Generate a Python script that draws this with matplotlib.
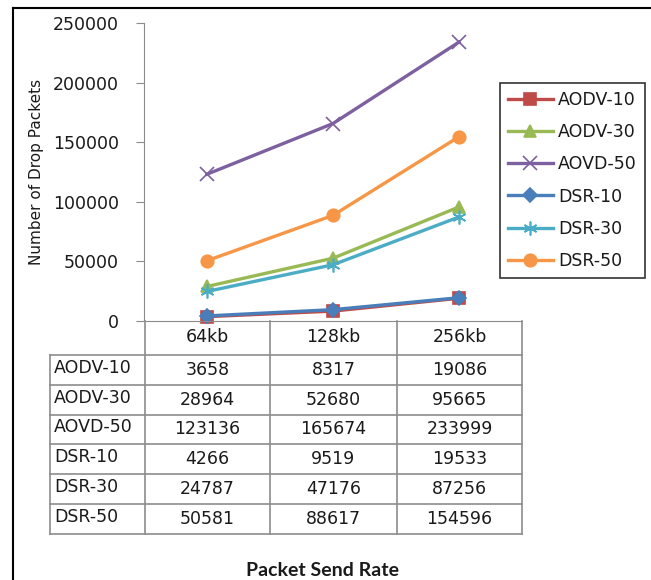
import matplotlib
matplotlib.use("Agg")
import matplotlib.pyplot as plt
from matplotlib.lines import Line2D

plt.rcParams["font.family"] = ["DejaVu Sans"]

# packet send rates (categories) and drop counts per protocol
rates = ["64kb", "128kb", "256kb"]
names = ["AODV-10", "AODV-30", "AOVD-50", "DSR-10", "DSR-30", "DSR-50"]
aodv_10 = [3658, 8317, 19086]
aodv_30 = [28964, 52680, 95665]
aovd_50 = [123136, 165674, 233999]
dsr_10 = [4266, 9519, 19533]
dsr_30 = [24787, 47176, 87256]
dsr_50 = [50581, 88617, 154596]
y_ticks = [0, 50000, 100000, 150000, 200000, 250000]

series = [aodv_10, aodv_30, aovd_50, dsr_10, dsr_30, dsr_50]
colors = ["#BE4B48", "#98B954", "#7D60A0", "#4A7EBB", "#4BACC6", "#F79646"]
markers = ["s", "^", "x", "D", (6, 2, 0), "o"]
msizes = [8, 8, 10, 7, 10, 9]

W, H = 651, 580
fig = plt.figure(figsize=(W / 100, H / 100), dpi=100)
fig.patch.set_facecolor("white")

def fx(px):
    return px / W

def fy(py):
    return 1 - py / H

grid_c = "#8c8c8c"
txt_c = "#1a1a1a"
fsize = 12.5

ax = fig.add_axes([fx(144), fy(321), fx(522) - fx(144), fy(23) - fy(321)])
x = list(range(len(rates)))
lines = []
for vals, c, m, ms, name in zip(series, colors, markers, msizes, names):
    ln, = ax.plot(x, vals, color=c, lw=2.4, marker=m, markersize=ms,
                  markerfacecolor=c, markeredgecolor=c, markeredgewidth=1.2,
                  label=name, clip_on=False)
    lines.append(ln)

ax.set_xlim(-0.5, 2.5)
ax.set_ylim(0, 250000)
ax.set_yticks(y_ticks)
ax.set_yticklabels([str(v) for v in y_ticks])
ax.set_xticks([])
for s in ["top", "right"]:
    ax.spines[s].set_visible(False)
ax.spines["left"].set_color(grid_c)
ax.spines["bottom"].set_color(grid_c)
ax.tick_params(axis="y", direction="out", length=6, color=grid_c,
               labelsize=fsize, labelcolor=txt_c, pad=12)

fig.text(fx(37), fy(172), "Number of Drop Packets", rotation=90,
         ha="center", va="center", fontsize=11, color=txt_c)

# data table under the plot
col_edges = [50, 145, 270, 397, 522]
row_edges = [321, 355, 385, 415, 444, 474, 504, 534]

def hline(y, x0, x1):
    fig.add_artist(Line2D([fx(x0), fx(x1)], [fy(y), fy(y)], color=grid_c, lw=1.2))

def vline(xp, y0, y1):
    fig.add_artist(Line2D([fx(xp), fx(xp)], [fy(y0), fy(y1)], color=grid_c, lw=1.2))

for y in row_edges[1:]:
    hline(y, col_edges[0], col_edges[-1])
vline(col_edges[0], row_edges[1], row_edges[-1])
for xp in col_edges[1:]:
    vline(xp, row_edges[0], row_edges[-1])

for j, r in enumerate(rates):
    cx = (col_edges[j + 1] + col_edges[j + 2]) / 2
    cy = (row_edges[0] + row_edges[1]) / 2 - 1
    fig.text(fx(cx), fy(cy), r, ha="center", va="center", fontsize=fsize, color=txt_c)

for i, (name, vals) in enumerate(zip(names, series)):
    cy = (row_edges[i + 1] + row_edges[i + 2]) / 2 - 2
    fig.text(fx(col_edges[0] + 4), fy(cy), name, ha="left", va="center",
             fontsize=fsize, color=txt_c)
    for j, v in enumerate(vals):
        cx = (col_edges[j + 1] + col_edges[j + 2]) / 2
        fig.text(fx(cx), fy(cy + 2), str(v), ha="center", va="center",
                 fontsize=fsize, color=txt_c)

fig.text(fx(323), fy(570), "Packet Send Rate", ha="center", va="center",
         fontsize=14, fontweight="bold", family="Lato", color=txt_c)

leg = fig.legend(handles=lines, loc="upper left",
                 bbox_to_anchor=(fx(500), fy(83)), bbox_transform=fig.transFigure,
                 fontsize=fsize, frameon=True, fancybox=False, edgecolor="black",
                 handlelength=2.6, handletextpad=0.3, labelspacing=0.82,
                 borderpad=0.45, borderaxespad=0)
leg.get_frame().set_linewidth(1.2)
for t in leg.get_texts():
    t.set_color(txt_c)

# outer frame
fig.add_artist(Line2D([fx(13), fx(13)], [fy(8), 0], color="black", lw=1.5))
fig.add_artist(Line2D([fx(13), 1], [fy(8), fy(8)], color="black", lw=1.5))

fig.savefig("out.png", dpi=100)
